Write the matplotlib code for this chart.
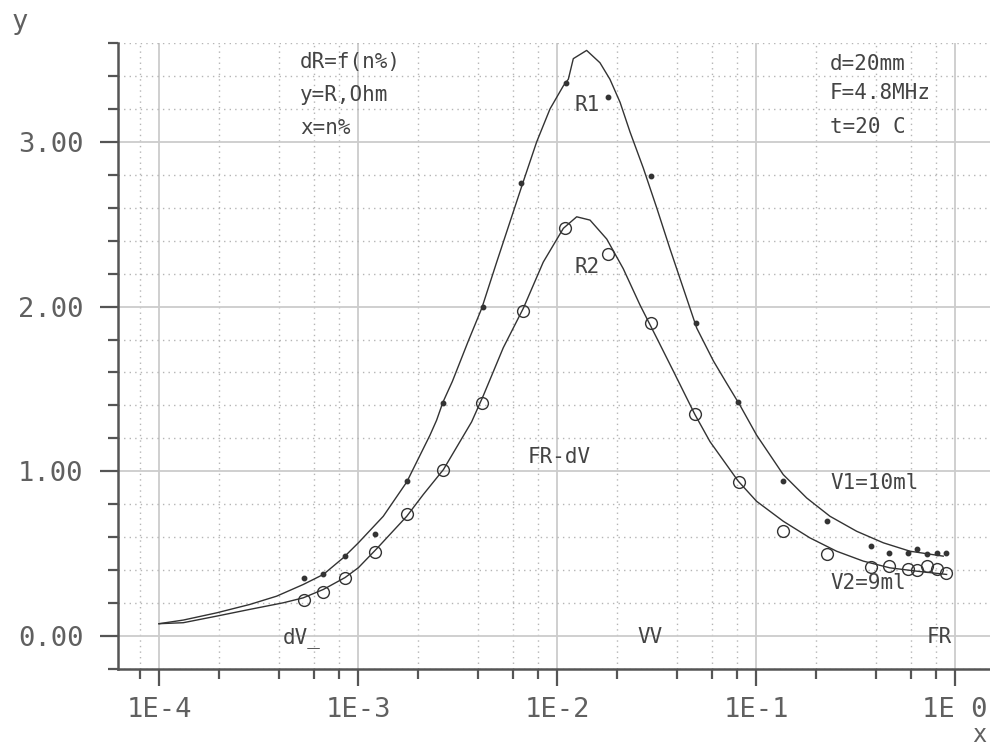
import numpy as np
import matplotlib
matplotlib.use("Agg")
from matplotlib import pyplot as plt
from matplotlib.ticker import LogLocator, FixedLocator, MultipleLocator, NullFormatter

# measured points, R1 (filled dots) and R2 (open circles)
r1_x = [5.36e-4, 6.67e-4, 8.6e-4, 1.22e-3, 1.76e-3, 2.67e-3, 4.25e-3, 6.6e-3, 1.11e-2,
        1.8e-2, 2.97e-2, 4.99e-2, 8.13e-2, 0.137, 0.227, 0.378, 0.466, 0.581, 0.644,
        0.723, 0.812, 0.90]
r1_y = [0.35, 0.376, 0.485, 0.62, 0.94, 1.414, 2.0, 2.75, 3.36,
        3.27, 2.79, 1.90, 1.42, 0.94, 0.70, 0.545, 0.505, 0.505, 0.527,
        0.50, 0.505, 0.505]

r2_x = [5.36e-4, 6.67e-4, 8.6e-4, 1.22e-3, 1.76e-3, 2.67e-3, 4.2e-3, 6.75e-3, 1.1e-2,
        1.8e-2, 2.97e-2, 4.93e-2, 8.2e-2, 0.137, 0.227, 0.378, 0.466, 0.581, 0.644,
        0.723, 0.812, 0.90]
r2_y = [0.218, 0.267, 0.353, 0.509, 0.74, 1.006, 1.414, 1.976, 2.48,
        2.32, 1.90, 1.345, 0.935, 0.64, 0.50, 0.42, 0.424, 0.405, 0.40,
        0.424, 0.405, 0.38]

# fitted curves (x as log10 of n%)
c1_lgx = [-4.0, -3.878, -3.710, -3.543, -3.409, -3.275, -3.174, -3.074, -2.998,
          -2.873, -2.755, -2.638, -2.605, -2.573, -2.526, -2.446, -2.378, -2.303,
          -2.236, -2.169, -2.102, -2.035, -1.968, -1.943, -1.918, -1.851, -1.784,
          -1.734, -1.683, -1.633, -1.566, -1.499, -1.432, -1.365, -1.298, -1.214,
          -1.15, -1.08, -0.997, -0.863, -0.745, -0.628, -0.494, -0.360, -0.226, -0.059]
c1_y = [0.075, 0.097, 0.141, 0.192, 0.242, 0.313, 0.374, 0.475, 0.566,
        0.727, 0.935, 1.22, 1.31, 1.42, 1.545, 1.79, 1.99, 2.27,
        2.515, 2.76, 3.0, 3.2, 3.34, 3.38, 3.505, 3.555, 3.48,
        3.38, 3.24, 3.06, 2.84, 2.60, 2.35, 2.11, 1.87, 1.67,
        1.54, 1.40, 1.22, 0.98, 0.838, 0.727, 0.636, 0.566, 0.515, 0.485]

c2_lgx = [-4.0, -3.878, -3.710, -3.543, -3.375, -3.275, -3.174, -3.065, -2.998,
          -2.906, -2.755, -2.672, -2.571, -2.429, -2.370, -2.27, -2.169, -2.069,
          -1.968, -1.901, -1.834, -1.75, -1.667, -1.583, -1.499, -1.416, -1.307,
          -1.231, -1.089, -0.997, -0.863, -0.729, -0.595, -0.461, -0.327, -0.193, -0.042]
c2_y = [0.075, 0.081, 0.121, 0.162, 0.202, 0.232, 0.283, 0.355, 0.415,
        0.53, 0.727, 0.859, 1.01, 1.30, 1.46, 1.75, 1.99, 2.27,
        2.475, 2.545, 2.525, 2.41, 2.23, 2.01, 1.81, 1.61, 1.345,
        1.18, 0.94, 0.818, 0.697, 0.596, 0.515, 0.455, 0.414, 0.394, 0.374]

x_ticks = [1e-4, 1e-3, 1e-2, 1e-1, 1e0]
x_labels = ["1E-4", "1E-3", "1E-2", "1E-1", "1E 0"]
y_ticks = [0, 1, 2, 3]
y_labels = ["0.00", "1.00", "2.00", "3.00"]

W, H = 990, 747
fig = plt.figure(figsize=(W / 100, H / 100), dpi=100)
ax = fig.add_axes([118 / W, 1 - 669 / H, 1 - 118 / W, (669 - 43) / H])

mono = "DejaVu Sans Mono"
ink = "#333333"
axc = "#555555"

ax.plot(np.power(10.0, c1_lgx), c1_y, color=ink, lw=1.0, zorder=3)
ax.plot(np.power(10.0, c2_lgx), c2_y, color=ink, lw=1.0, zorder=3)
ax.plot(r1_x, r1_y, "o", ms=3.2, color=ink, zorder=4)
ax.plot(r2_x, r2_y, "o", ms=8.5, mfc="none", mec=ink, mew=1.0, zorder=4)

ax.set_xscale("log")
ax.set_xlim(10 ** -4.206, 10 ** 0.176)
ax.set_ylim(-0.2, 3.6)

ax.xaxis.set_major_locator(FixedLocator(x_ticks))
ax.set_xticklabels(x_labels)
ax.xaxis.set_minor_locator(LogLocator(base=10, subs=[2, 4, 6, 8], numticks=20))
ax.xaxis.set_minor_formatter(NullFormatter())
ax.yaxis.set_major_locator(FixedLocator(y_ticks))
ax.set_yticklabels(y_labels)
ax.yaxis.set_minor_locator(MultipleLocator(0.2))

ax.grid(which="major", color="#cccccc", lw=1.3, ls="-")
ax.grid(which="minor", color="#b5b5b5", lw=1.0, ls=(0, (1, 3)))
ax.set_axisbelow(True)

for s in ["top", "right"]:
    ax.spines[s].set_visible(False)
for s in ["left", "bottom"]:
    ax.spines[s].set_color(axc)
    ax.spines[s].set_linewidth(1.8)

ax.tick_params(which="major", direction="out", length=12, width=1.6, color=axc,
               labelsize=19.5, labelcolor="#606060", pad=8)
ax.tick_params(which="minor", direction="out", length=7, width=1.6, color=axc)
ax.tick_params(axis="y", which="major", length=13, pad=12)
for lab in ax.get_xticklabels() + ax.get_yticklabels():
    lab.set_family(mono)


def ftext(px, py, s, size=15, color="#444444"):
    fig.text(px / W, 1 - py / H, s, fontsize=size, family=mono, color=color,
             ha="left", va="center")


ftext(300, 62, "dR=f(n%)")
ftext(300, 95, "y=R,Ohm")
ftext(300, 128, "x=n%")
ftext(830, 64, "d=20mm")
ftext(830, 93, "F=4.8MHz")
ftext(830, 127, "t=20 C")
ftext(575, 105, "R1")
ftext(575, 267, "R2")
ftext(528, 457, "FR-dV")
ftext(830, 483, "V1=10ml")
ftext(830, 583, "V2=9ml")
ftext(283, 638, "dV_")
ftext(637, 637, "VV")
ftext(927, 637, "FR")
ftext(12, 22, "y", size=19.5, color="#606060")
ftext(972, 735, "x", size=17, color="#606060")

fig.savefig("out.png", dpi=100)
